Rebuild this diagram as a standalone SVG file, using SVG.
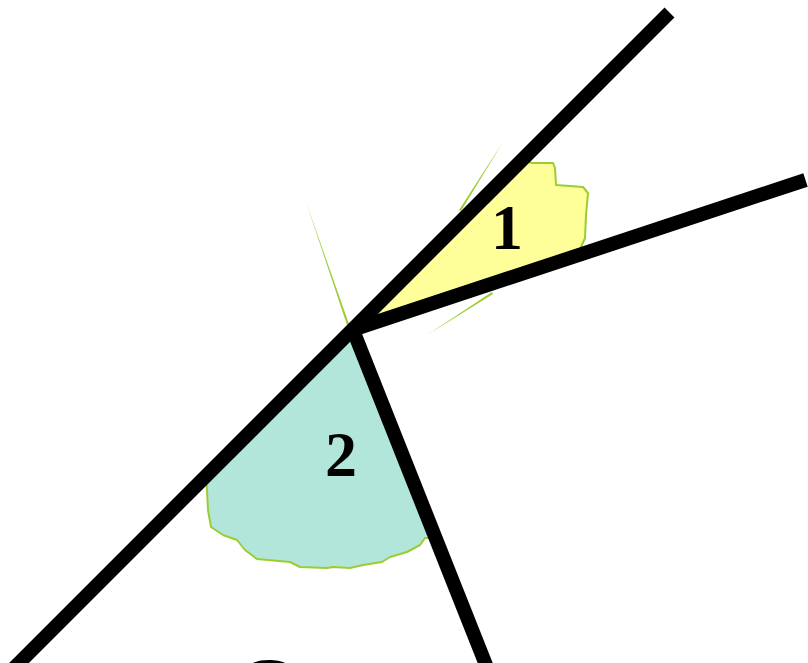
<svg xmlns="http://www.w3.org/2000/svg" width="808" height="663" viewBox="0 0 808 663">
<style>
.region{stroke:#9acd32;stroke-width:2;stroke-linejoin:round}
.ray{stroke:#000;stroke-width:14;stroke-linecap:butt;fill:none}
.hint{fill:#9acd32}
.lbl{font-family:"Liberation Serif","Times New Roman",serif;font-weight:bold;font-size:64px;text-anchor:middle;fill:#000}
</style>
<rect width="808" height="663" fill="#fff"/>
<g id="angle1">
<polygon class="region" fill="#ffff99" points="352,330 522,160 532,163 553,163 555,168 556,185 583,187 588,193 586,215 585,238 581,247 581,253"/>
<text class="lbl" x="507" y="249">1</text>
</g>
<g id="angle2">
<polygon class="region" fill="#b3e6da" points="352,330 206,476 207,490 208,510 211,527 223,535 237,540 245,550 257,559 290,562 300,567 327,568 333,567 350,568 363,565 382,562 390,557 407,552 420,545 425,538 436,538"/>
<text class="lbl" x="341" y="476">2</text>
</g>
<g id="hints">
<polygon class="hint" points="306,202 349,324 347,325"/>
<polygon class="hint" points="503,142 461,211 459,210"/>
<polygon class="hint" points="427,335 492,292 493,294"/>
</g>
<g id="connectors">
<line class="ray" x1="669.5" y1="12.5" x2="12" y2="670"/>
<line class="ray" x1="352" y1="330" x2="805.5" y2="180"/>
<line class="ray" x1="353" y1="330" x2="488" y2="670"/>
</g>
<path d="M253,663 C260,659 278,659 285,663 Z" fill="#000"/>
</svg>
